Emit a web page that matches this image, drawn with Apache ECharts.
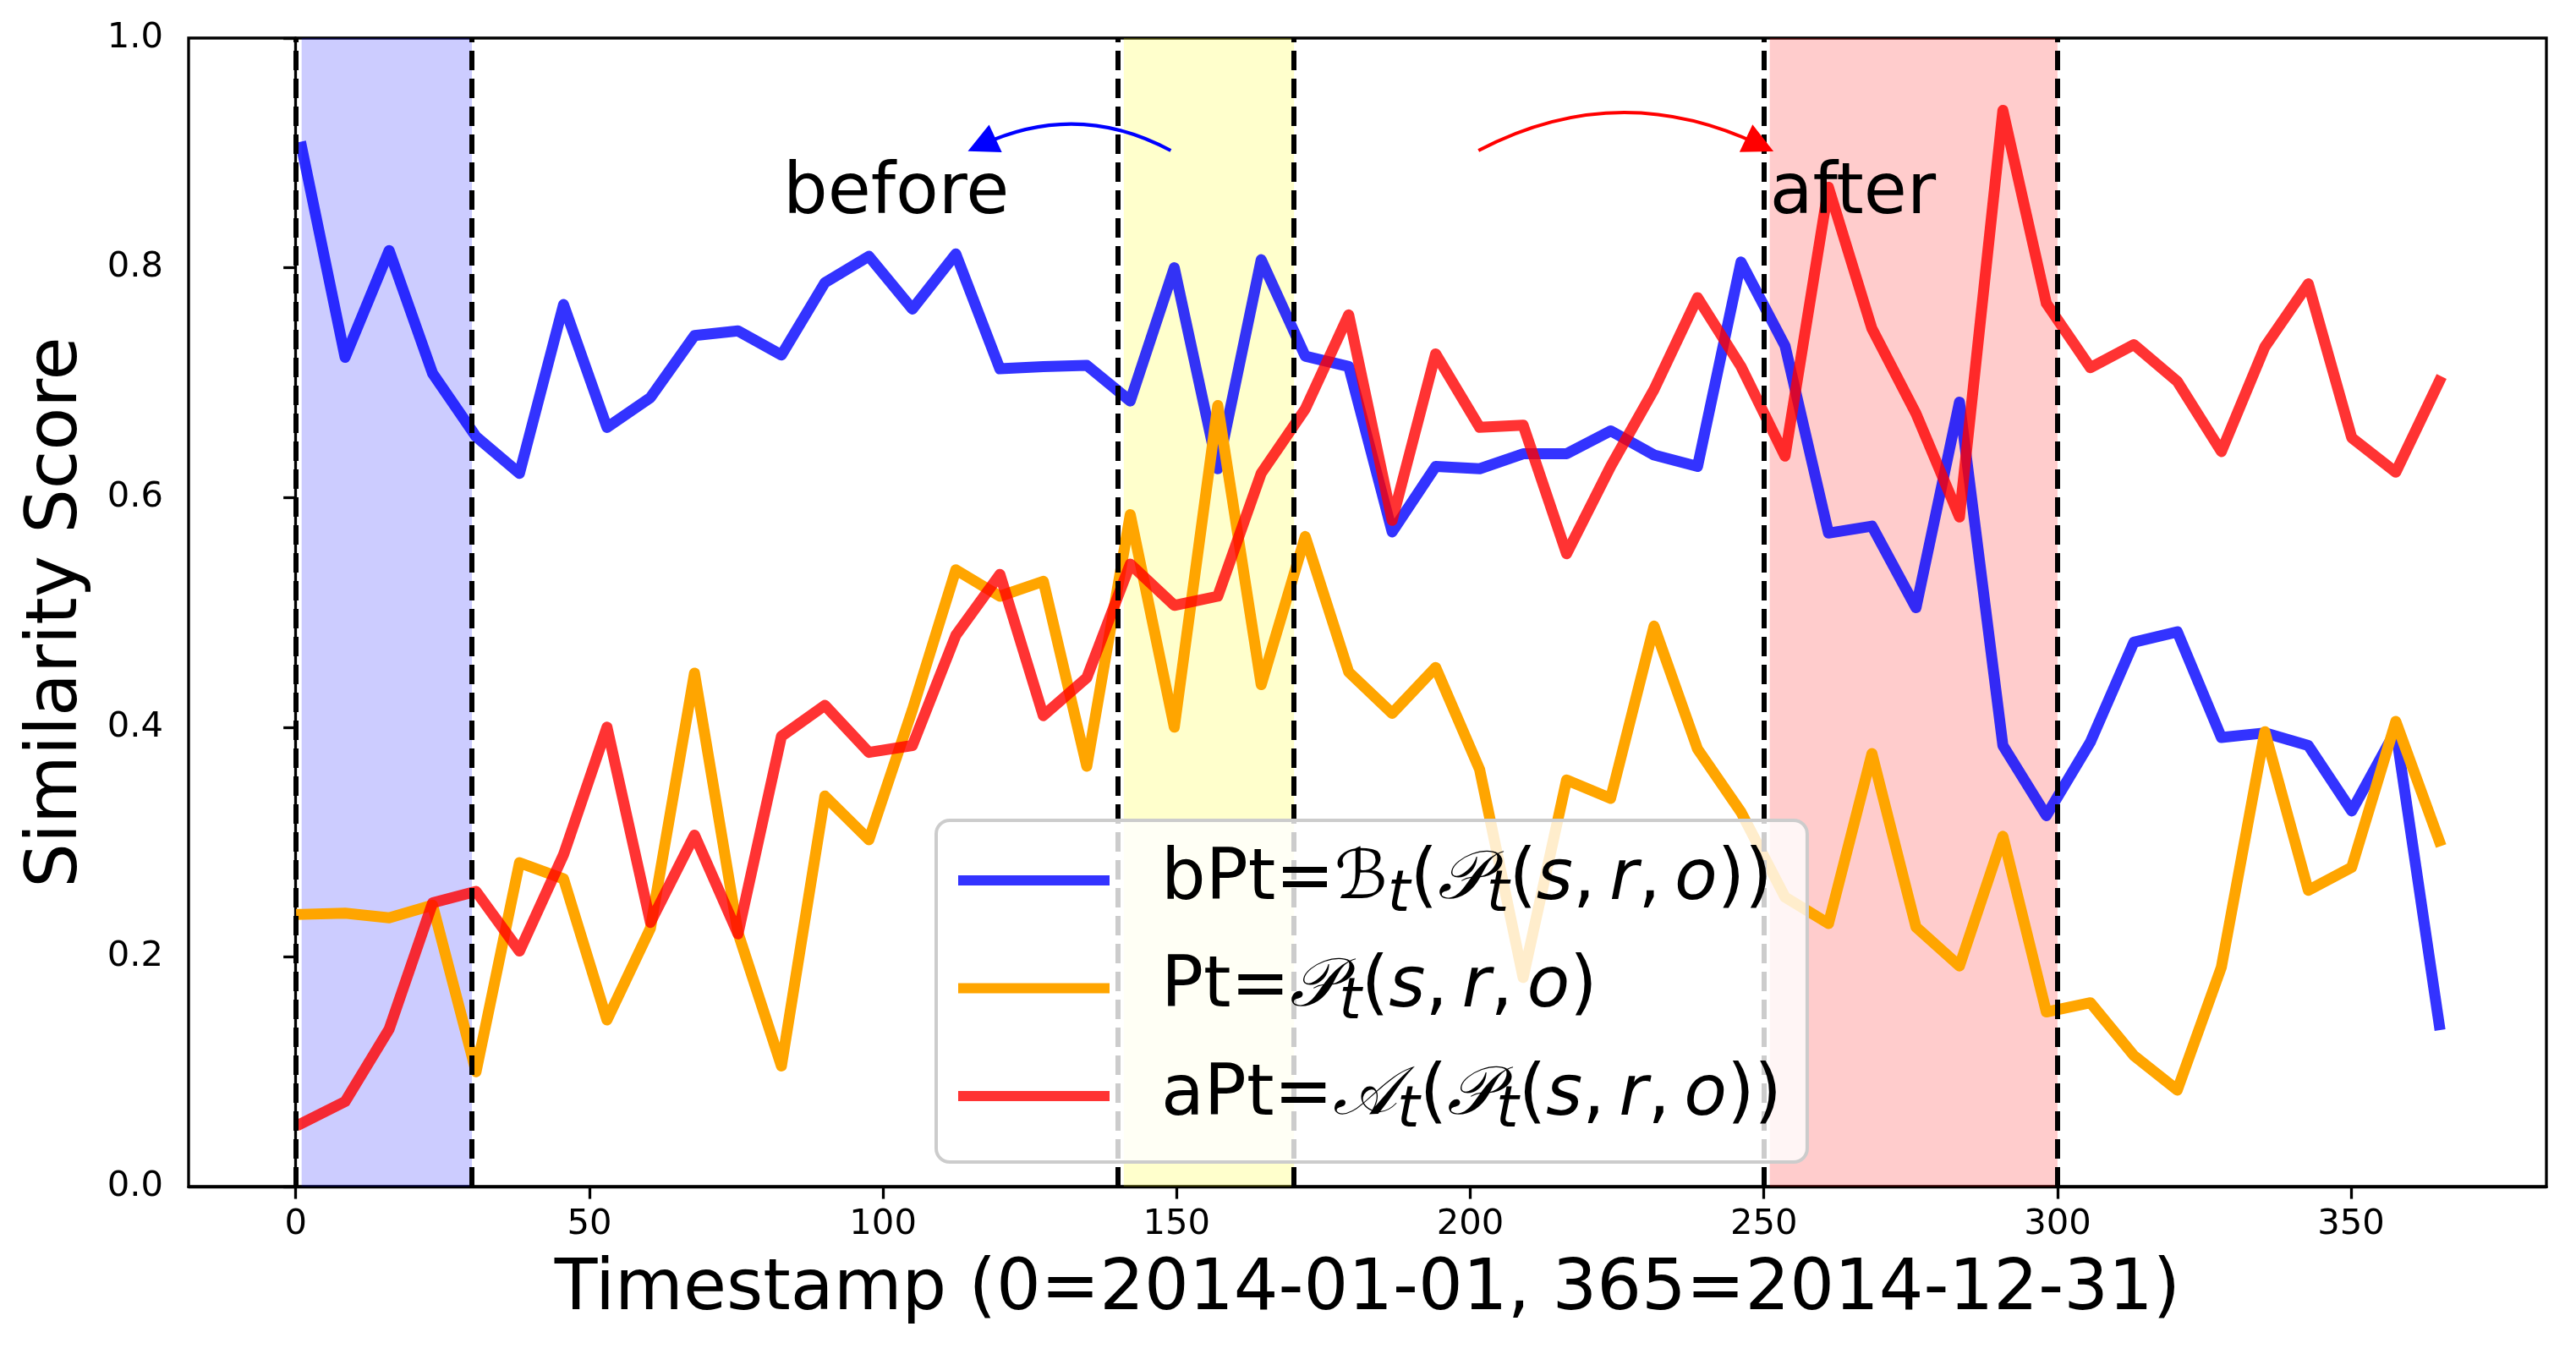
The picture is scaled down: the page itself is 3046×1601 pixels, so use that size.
<!DOCTYPE html>
<html>
<head>
<meta charset="utf-8">
<script src="https://cdn.jsdelivr.net/npm/echarts@6/dist/echarts.min.js"></script>
<style>
  html, body { margin: 0; padding: 0; background: #fff; }
  #chart { width: 3046px; height: 1601px; }
</style>
</head>
<body>
<div id="chart"></div>
<script>
// timestamps (day of 2014) of the 50 samples
const days = [1, 8.4, 15.9, 23.3, 30.7, 38.1, 45.6, 53, 60.4, 67.9,
  75.3, 82.7, 90.1, 97.6, 105, 112.4, 119.9, 127.3, 134.7, 142.1,
  149.6, 157, 164.4, 171.9, 179.3, 186.7, 194.1, 201.6, 209, 216.4,
  223.9, 231.3, 238.7, 246.1, 253.6, 261, 268.4, 275.9, 283.3, 290.7,
  298.1, 305.6, 313, 320.4, 327.9, 335.3, 342.7, 350.1, 357.6, 365]

// bPt = B_t(P_t(s,r,o))
const bPt = [0.905, 0.722, 0.815, 0.708, 0.653, 0.621, 0.768, 0.661, 0.687, 0.741,
  0.745, 0.724, 0.787, 0.810, 0.764, 0.812, 0.712, 0.714, 0.715, 0.684,
  0.800, 0.625, 0.807, 0.723, 0.714, 0.570, 0.627, 0.625, 0.638, 0.638,
  0.658, 0.637, 0.627, 0.805, 0.732, 0.569, 0.575, 0.504, 0.683, 0.384,
  0.323, 0.387, 0.474, 0.483, 0.391, 0.395, 0.384, 0.327, 0.397, 0.141]

// Pt = P_t(s,r,o)
const Pt = [0.237, 0.238, 0.234, 0.245, 0.100, 0.282, 0.268, 0.145, 0.225, 0.447,
  0.221, 0.105, 0.340, 0.302, 0.415, 0.537, 0.514, 0.527, 0.366, 0.585,
  0.400, 0.680, 0.437, 0.566, 0.448, 0.412, 0.452, 0.363, 0.182, 0.354,
  0.338, 0.488, 0.381, 0.326, 0.252, 0.229, 0.377, 0.226, 0.192, 0.305,
  0.152, 0.160, 0.114, 0.084, 0.191, 0.396, 0.258, 0.278, 0.405, 0.301]

// aPt = A_t(P_t(s,r,o))
const aPt = [0.055, 0.074, 0.137, 0.247, 0.257, 0.205, 0.289, 0.400, 0.230, 0.306,
  0.220, 0.392, 0.419, 0.378, 0.384, 0.480, 0.533, 0.410, 0.443, 0.542,
  0.506, 0.514, 0.621, 0.677, 0.759, 0.580, 0.725, 0.661, 0.663, 0.551,
  0.627, 0.694, 0.774, 0.714, 0.636, 0.870, 0.747, 0.673, 0.583, 0.937,
  0.769, 0.713, 0.733, 0.701, 0.640, 0.731, 0.786, 0.652, 0.622, 0.701]

const boundaries = [0, 30, 140, 170, 250, 300]
const windows = [[1, 30], [141, 170], [251, 300]]
const windowColors = ['rgba(0,0,255,0.2)', 'rgba(255,255,0,0.2)', 'rgba(255,0,0,0.2)']

const xTicks = [0, 50, 100, 150, 200, 250, 300, 350]
const noteTexts = ['before', 'after']
const notePoints = [[83, 0.85], [251, 0.85]]
// annotation arrows: [from, to]
const arrowFrom = [[149, 0.902], [201.4, 0.902]]
const arrowTo = [[116.8, 0.907], [249.3, 0.907]]

const FONT = 'DejaVu Sans'
const pair = (vals) => days.map((d, i) => [d, vals[i]])

const SEP = '{n|,\u2009}'
const args = '{i|s}' + SEP + '{i|r}' + SEP + '{i|o}'
const legendText = {
  bPt: '{b|bPt=}{c|ℬ}{sub|t}{n|(}{c|𝒫}{sub|t}{n|(}' + args + '{n|))}',
  Pt: '{b|Pt=}{c|𝒫}{sub|t}{n|(}' + args + '{n|)}',
  aPt: '{b|aPt=}{c|𝒜}{sub|t}{n|(}{c|𝒫}{sub|t}{n|(}' + args + '{n|))}',
}

const chart = echarts.init(document.getElementById('chart'))

const lineSeries = (name, vals, color, z) => ({
  name,
  type: 'line',
  data: pair(vals),
  showSymbol: false,
  symbol: 'none',
  z,
  color,
  lineStyle: { color, width: 13, cap: 'square', join: 'round' },
  itemStyle: { color },
})

const option = {
  animation: false,
  textStyle: { fontFamily: FONT },
  grid: {
    left: 223, right: 35, top: 45, bottom: 198,
    show: true, borderColor: '#000', borderWidth: 3.3, backgroundColor: 'transparent',
  },
  xAxis: {
    type: 'value',
    min: -18.25,
    max: 383.25,
    name: 'Timestamp (0=2014-01-01, 365=2014-12-31)',
    nameLocation: 'middle',
    nameGap: 82,
    nameTextStyle: { fontSize: 83, color: '#000', fontFamily: FONT },
    axisLine: { onZero: false, lineStyle: { color: '#000', width: 3.3 } },
    axisTick: { show: true, customValues: xTicks, length: 14.6, lineStyle: { color: '#000', width: 3.3 } },
    axisLabel: { customValues: xTicks, fontSize: 41.7, color: '#000', margin: 24, fontFamily: FONT },
    splitLine: { show: false },
  },
  yAxis: {
    type: 'value',
    min: 0,
    max: 1,
    interval: 0.2,
    name: 'Similarity Score',
    nameLocation: 'middle',
    nameGap: 113,
    nameTextStyle: { fontSize: 83, color: '#000', fontFamily: FONT },
    axisLine: { show: true, lineStyle: { color: '#000', width: 3.3 } },
    axisTick: { show: true, length: 14.6, lineStyle: { color: '#000', width: 3.3 } },
    axisLabel: { fontSize: 41.7, color: '#000', margin: 30, fontFamily: FONT, formatter: (v) => v.toFixed(1) },
    splitLine: { show: false },
  },
  legend: {
    data: ['bPt', 'Pt', 'aPt'],
    orient: 'vertical',
    z: 20,
    left: 1107,
    top: 970,
    padding: [19, 30, 26, 26],
    itemWidth: 179,
    itemHeight: 12,
    itemGap: 23.5,
    icon: 'rect',
    backgroundColor: 'rgba(255,255,255,0.8)',
    borderColor: '#cccccc',
    borderWidth: 4,
    borderRadius: 16,
    formatter: (n) => legendText[n],
    textStyle: {
      rich: {
        b: { fontFamily: FONT, fontSize: 83, color: '#000', lineHeight: 100, padding: [0, 0, 0, 56] },
        n: { fontFamily: FONT, fontSize: 83, color: '#000', lineHeight: 100 },
        i: { fontFamily: FONT, fontSize: 83, color: '#000', lineHeight: 100, fontStyle: 'italic' },
        c: { fontFamily: FONT, fontSize: 80, color: '#000', lineHeight: 100, fontStyle: 'italic' },
        sub: { fontFamily: FONT, fontSize: 68, color: '#000', lineHeight: 100, fontStyle: 'italic', padding: [36, 0, 0, 0] },
      },
    },
  },
  series: [
    {
      name: 'windows',
      type: 'line',
      data: [],
      z: 1,
      silent: true,
      markArea: {
        silent: true,
        data: windows.map((w, i) => [
          { xAxis: w[0], itemStyle: { color: windowColors[i] } },
          { xAxis: w[1] },
        ]),
      },
    },
    lineSeries('bPt', bPt, 'rgba(0,0,255,0.8)', 2),
    lineSeries('Pt', Pt, '#ffa500', 3),
    lineSeries('aPt', aPt, 'rgba(255,0,0,0.8)', 4),
    {
      name: 'boundaries',
      type: 'line',
      data: [],
      z: 6,
      silent: true,
      markLine: {
        silent: true,
        symbol: 'none',
        label: { show: false },
        lineStyle: { color: '#000', width: 6, type: [23, 10], opacity: 1 },
        data: boundaries.map((b) => ({ xAxis: b })),
      },
    },
    {
      name: 'arrows',
      type: 'lines',
      coordinateSystem: 'cartesian2d',
      z: 7,
      silent: true,
      symbol: ['none', 'triangle'],
      symbolSize: 36,
      data: arrowFrom.map((f, i) => ({
        coords: [f, arrowTo[i]],
        lineStyle: { color: i === 0 ? '#0000ff' : '#ff0000', width: 4, curveness: i === 0 ? -0.25 : 0.25, opacity: 1 },
      })),
    },
    {
      name: 'notes',
      type: 'scatter',
      data: notePoints,
      symbolSize: 0,
      z: 7,
      silent: true,
      itemStyle: { opacity: 1 },
      label: {
        show: true,
        position: [0, 0],
        align: 'left',
        verticalAlign: 'bottom',
        offset: [0, 23],
        fontSize: 83,
        color: '#000',
        opacity: 1,
        fontFamily: FONT,
        formatter: (p) => noteTexts[p.dataIndex],
      },
    },
  ],
}

chart.setOption(option)
</script>
</body>
</html>
